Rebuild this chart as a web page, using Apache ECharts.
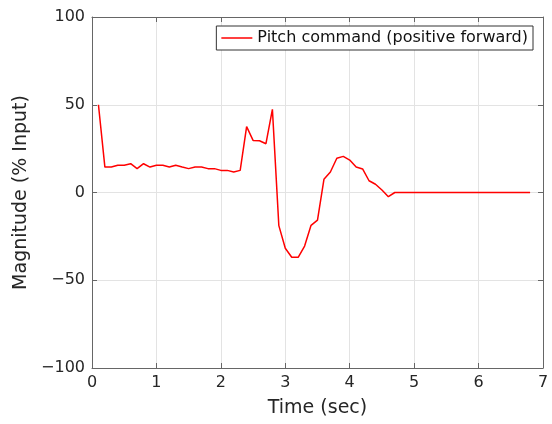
<!DOCTYPE html>
<html>
<head>
<meta charset="utf-8">
<script src="https://cdn.jsdelivr.net/npm/echarts@6/dist/echarts.min.js"></script>
<style>
  html, body { margin: 0; padding: 0; background: #fff; }
  #chart { width: 552px; height: 424px; }
</style>
</head>
<body>
<div id="chart"></div>
<script>
// Pitch command over time
const timeSec = [0.1, 0.2, 0.3, 0.4, 0.5, 0.6, 0.7, 0.8, 0.9, 1.0,
  1.1, 1.2, 1.3, 1.4, 1.5, 1.6, 1.7, 1.8, 1.9, 2.0,
  2.1, 2.2, 2.3, 2.4, 2.5, 2.6, 2.7, 2.8, 2.9, 3.0,
  3.1, 3.2, 3.3, 3.4, 3.5, 3.6, 3.7, 3.8, 3.9, 4.0,
  4.1, 4.2, 4.3, 4.4, 4.5, 4.6, 4.7, 6.8];
const pitchCmd = [50, 14.5, 14.5, 15.5, 15.5, 16.4, 13.6, 16.4, 14.5, 15.5,
  15.5, 14.5, 15.5, 14.5, 13.6, 14.5, 14.5, 13.6, 13.6, 12.6,
  12.6, 11.7, 12.6, 37.5, 29.7, 29.5, 27.8, 47.4, -18.9, -31.8,
  -36.9, -36.9, -30.5, -18.7, -15.7, 7.5, 11.7, 19.5, 20.6, 18.5,
  14.5, 13.4, 6.7, 4.7, 1.4, -2.4, 0, 0];
const xTicks = { min: 0, max: 7, step: 1 };
const yTicks = { min: -100, max: 100, step: 50 };
const seriesName = 'Pitch command (positive forward)';

const FONT = 'DejaVu Sans';
const AXIS_COLOR = '#666';
const TEXT_COLOR = '#262626';
const minusFmt = v => String(v).replace('-', '\u2212');

const points = timeSec.map((t, i) => [t, pitchCmd[i]]);

const chart = echarts.init(document.getElementById('chart'), null, { renderer: 'canvas' });

const frameAxis = (extra) => Object.assign({
  type: 'value',
  axisLine: { show: true, onZero: false, lineStyle: { color: AXIS_COLOR, width: 1 } },
  axisTick: { show: true, inside: true, length: 5, lineStyle: { color: AXIS_COLOR } },
  axisLabel: { show: false },
  splitLine: { show: false }
}, extra);

chart.setOption({
  animation: false,
  backgroundColor: '#fff',
  textStyle: { fontFamily: FONT },
  grid: { left: 92, right: 9, top: 17, bottom: 56, containLabel: false },
  legend: {
    data: [seriesName],
    right: 19,
    top: 26,
    orient: 'vertical',
    backgroundColor: '#fff',
    borderColor: '#333',
    borderWidth: 1,
    borderRadius: 0,
    padding: [3, 5, 3, 5],
    itemWidth: 31,
    itemHeight: 14,
    itemGap: 0,
    // plain line sample, no marker
    icon: 'path://M0,6 L31,6 L31,7.5 L0,7.5 Z',
    textStyle: { fontFamily: FONT, fontSize: 16, lineHeight: 18, color: '#111' }
  },
  xAxis: [
    frameAxis({
      min: xTicks.min, max: xTicks.max, interval: xTicks.step,
      position: 'bottom',
      name: 'Time (sec)',
      nameLocation: 'middle',
      nameGap: 31,
      nameTextStyle: { fontFamily: FONT, fontSize: 19, color: TEXT_COLOR },
      axisLabel: { show: true, fontFamily: FONT, fontSize: 16, color: TEXT_COLOR, margin: 7, formatter: minusFmt },
      splitLine: { show: true, lineStyle: { color: '#e3e3e3', width: 1 } }
    }),
    frameAxis({ min: xTicks.min, max: xTicks.max, interval: xTicks.step, position: 'top' })
  ],
  yAxis: [
    frameAxis({
      min: yTicks.min, max: yTicks.max, interval: yTicks.step,
      position: 'left',
      name: 'Magnitude (% Input)',
      nameLocation: 'middle',
      nameGap: 58,
      nameTextStyle: { fontFamily: FONT, fontSize: 19, color: TEXT_COLOR },
      axisLabel: { show: true, fontFamily: FONT, fontSize: 16, color: TEXT_COLOR, margin: 7, formatter: minusFmt },
      splitLine: { show: true, lineStyle: { color: '#e3e3e3', width: 1 } }
    }),
    frameAxis({ min: yTicks.min, max: yTicks.max, interval: yTicks.step, position: 'right' })
  ],
  series: [{
    name: seriesName,
    type: 'line',
    xAxisIndex: 0,
    yAxisIndex: 0,
    data: points,
    showSymbol: false,
    symbol: 'none',
    lineStyle: { color: '#ff0000', width: 1.5 },
    itemStyle: { color: '#ff0000' }
  }]
});
</script>
</body>
</html>
